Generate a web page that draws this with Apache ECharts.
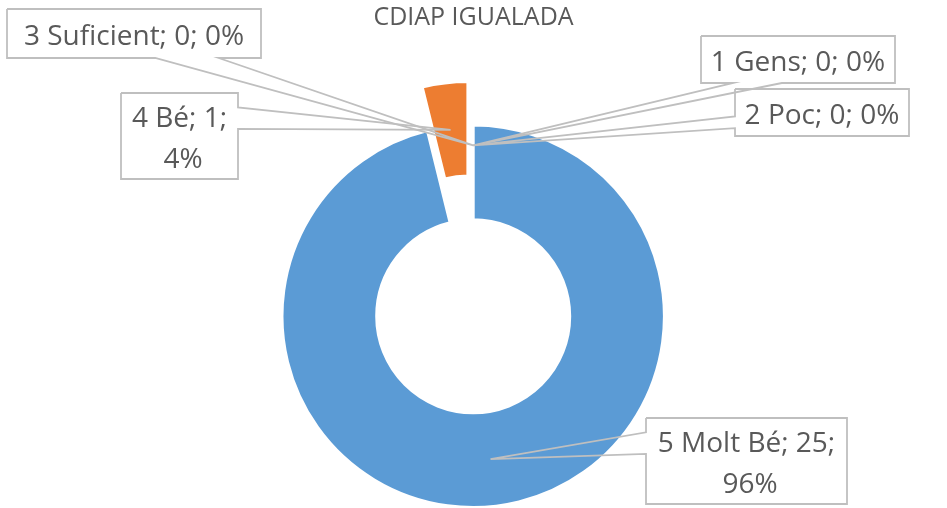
<!DOCTYPE html>
<html>
<head>
<meta charset="utf-8">
<script src="https://cdn.jsdelivr.net/npm/echarts@6/dist/echarts.min.js"></script>
<style>
  html, body { margin: 0; padding: 0; background: #ffffff; }
  #main { width: 947px; height: 508px; }
</style>
</head>
<body>
<div id="main"></div>
<script>
// Ratings for CDIAP Igualada
const categories = ['1 Gens', '2 Poc', '3 Suficient', '4 Bé', '5 Molt Bé'];
const counts = [0, 0, 0, 1, 25];
const explodedCategory = '4 Bé';

// Slice colours
const sliceColors = ['#5B9BD5', '#A5A5A5', '#FFC000', '#ED7D31', '#5B9BD5'];

// Callout boxes of the data labels: [left, top, width, height]
const calloutBoxes = {
  '1 Gens': [701, 36, 194, 47],
  '2 Poc': [735, 89, 174, 47],
  '3 Suficient': [7, 9, 254, 49],
  '4 Bé': [121, 93, 117, 86],
  '5 Molt Bé': [646, 418, 201, 86]
};

const PIE_CENTER = [473.2, 316.3];
const PIE_RADIUS = [96.5, 191.2];
const START_ANGLE = 90;          // degrees, slices run counter-clockwise
const EXPLODE_OFFSET = 44;
const ZERO_ANCHOR_R = 171;
const TEXT_SHIFT = 3.5;
const LINE_COLOR = '#BFBFBF';
const TEXT_COLOR = '#595959';
const HIDDEN = 'rgba(0,0,0,0)';
const FONT = '"Open Sans", "DejaVu Sans", sans-serif';

const total = counts.reduce(function (a, b) { return a + b; }, 0);

// Canvas-space mid angle of a slice (y axis pointing down)
function midAngle(i) {
  let before = 0;
  for (let k = 0; k < i; k++) before += counts[k];
  const a0 = -START_ANGLE * Math.PI / 180 - 2 * Math.PI * before / total;
  const a1 = a0 - 2 * Math.PI * counts[i] / total;
  return (a0 + a1) / 2;
}

const explodedIndex = categories.indexOf(explodedCategory);
const explodedCenter = [
  PIE_CENTER[0] + Math.cos(midAngle(explodedIndex)) * EXPLODE_OFFSET,
  PIE_CENTER[1] + Math.sin(midAngle(explodedIndex)) * EXPLODE_OFFSET
];

// Point of a slice that the callout wedge points at
function sliceAnchor(i) {
  const mid = midAngle(i);
  const c = i === explodedIndex ? explodedCenter : PIE_CENTER;
  const rr = counts[i] > 0 ? (PIE_RADIUS[0] + PIE_RADIUS[1]) / 2 : ZERO_ANCHOR_R;
  return [c[0] + rr * Math.cos(mid), c[1] + rr * Math.sin(mid)];
}

// Outline of a rectangular callout with a wedge toward the anchor
function calloutPath(box, anchor) {
  const l = box[0], t = box[1], w = box[2], h = box[3];
  const r = l + w, b = t + h;
  const dx = anchor[0] - (l + w / 2);
  const dy = anchor[1] - (t + h / 2);
  const vertical = Math.abs(dy) > Math.abs(dx * h / w);
  const xg1 = l + w * (dx > 0 ? 7 : 2) / 12, xg2 = l + w * (dx > 0 ? 10 : 5) / 12;
  const yg1 = t + h * (dy > 0 ? 7 : 2) / 12, yg2 = t + h * (dy > 0 ? 10 : 5) / 12;
  const pts = [[l, t]];
  if (vertical && dy < 0) pts.push([xg1, t], anchor, [xg2, t]);
  pts.push([r, t]);
  if (!vertical && dx > 0) pts.push([r, yg1], anchor, [r, yg2]);
  pts.push([r, b]);
  if (vertical && dy > 0) pts.push([xg2, b], anchor, [xg1, b]);
  pts.push([l, b]);
  if (!vertical && dx < 0) pts.push([l, yg2], anchor, [l, yg1]);
  pts.push([l, t]);
  return pts;
}

// Slice data of one ring; `visible` decides which slices get painted
function ringData(visible, withLabels) {
  return categories.map(function (name, i) {
    const item = {
      name: name,
      value: counts[i],
      itemStyle: visible(i)
        ? { color: sliceColors[i] }
        : { color: HIDDEN, borderWidth: 0 }
    };
    if (withLabels) item.label = { width: calloutBoxes[name][2] - 6 };
    return item;
  });
}

const common = {
  type: 'pie',
  radius: PIE_RADIUS,
  startAngle: START_ANGLE,
  clockwise: false,
  percentPrecision: 0,
  avoidLabelOverlap: false,
  itemStyle: { borderColor: '#ffffff', borderWidth: 3 },
  emphasis: { disabled: true }
};

const chart = echarts.init(document.getElementById('main'), null, { renderer: 'canvas' });

chart.setOption({
  animation: false,
  backgroundColor: '#ffffff',
  textStyle: { fontFamily: FONT },
  title: {
    text: 'CDIAP IGUALADA',
    left: 'center',
    top: 0,
    textStyle: { fontFamily: FONT, fontSize: 25, fontWeight: 'normal', color: TEXT_COLOR }
  },
  series: [
    // ring in place, without the exploded slice
    Object.assign({}, common, {
      name: 'ring',
      z: 2,
      center: PIE_CENTER,
      silent: true,
      label: { show: false },
      labelLine: { show: false },
      data: ringData(function (i) { return i !== explodedIndex; }, false)
    }),
    // exploded slice, pulled out along its mid angle
    Object.assign({}, common, {
      name: 'exploded',
      z: 2,
      center: explodedCenter,
      silent: true,
      label: { show: false },
      labelLine: { show: false },
      data: ringData(function (i) { return i === explodedIndex; }, false)
    }),
    // data labels with callouts, drawn above the slices
    Object.assign({}, common, {
      name: 'CDIAP IGUALADA',
      z: 5,
      center: PIE_CENTER,
      itemStyle: { borderWidth: 0 },
      label: {
        show: true,
        position: 'outside',
        formatter: '{b}; {c}; {d}%',
        fontFamily: FONT,
        fontSize: 28,
        lineHeight: 41,
        color: TEXT_COLOR,
        overflow: 'break',
        align: 'center'
      },
      labelLine: {
        show: true,
        showAbove: true,
        smooth: false,
        lineStyle: { color: LINE_COLOR, width: 1.8 }
      },
      labelLayout: function (params) {
        const name = categories[params.dataIndex];
        const box = calloutBoxes[name];
        return {
          x: box[0] + box[2] / 2,
          y: box[1] + box[3] / 2 + TEXT_SHIFT,
          align: 'center',
          verticalAlign: 'middle',
          width: box[2] - 6,
          hideOverlap: false,
          labelLinePoints: calloutPath(box, sliceAnchor(params.dataIndex))
        };
      },
      data: ringData(function () { return false; }, true)
    })
  ]
});
</script>
</body>
</html>
